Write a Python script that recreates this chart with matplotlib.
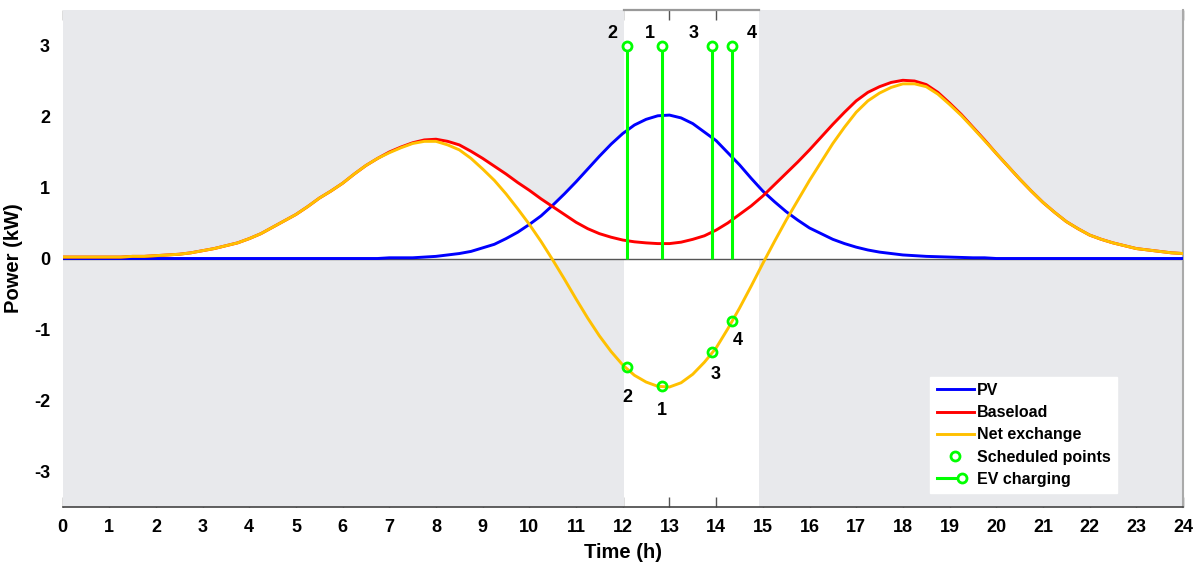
import numpy as np
import matplotlib
matplotlib.use("Agg")
import matplotlib.pyplot as plt
from matplotlib.lines import Line2D
from matplotlib.legend_handler import HandlerBase

# quarter-hourly profile, kW (one row per hour)
hours = np.arange(0, 24.25, 0.25)
pv = [0.0, 0.0, 0.0, 0.0,
      0.0, 0.0, 0.0, 0.0,
      0.0, 0.0, 0.0, 0.0,
      0.0, 0.0, 0.0, 0.0,
      0.0, 0.0, 0.0, 0.0,
      0.0, 0.0, 0.0, 0.0,
      0.0, 0.0, 0.0, 0.0,
      0.01, 0.01, 0.01, 0.02,
      0.03, 0.05, 0.07, 0.10,
      0.15, 0.20, 0.28, 0.37,
      0.48, 0.60, 0.75, 0.91,
      1.08, 1.26, 1.44, 1.61,
      1.76, 1.88, 1.96, 2.01,
      2.02, 1.98, 1.90, 1.78,
      1.66, 1.49, 1.32, 1.13,
      0.95, 0.80, 0.66, 0.54,
      0.43, 0.35, 0.27, 0.21,
      0.16, 0.12, 0.09, 0.07,
      0.05, 0.04, 0.03, 0.025,
      0.02, 0.015, 0.01, 0.01,
      0.0, 0.0, 0.0, 0.0,
      0.0, 0.0, 0.0, 0.0,
      0.0, 0.0, 0.0, 0.0,
      0.0, 0.0, 0.0, 0.0,
      0.0]
baseload = [0.02, 0.02, 0.02, 0.02,
            0.02, 0.02, 0.03, 0.03,
            0.04, 0.05, 0.06, 0.08,
            0.11, 0.14, 0.18, 0.22,
            0.28, 0.35, 0.44, 0.53,
            0.62, 0.73, 0.85, 0.95,
            1.06, 1.19, 1.31, 1.41,
            1.50, 1.57, 1.63, 1.67,
            1.68, 1.65, 1.60, 1.51,
            1.41, 1.30, 1.19, 1.07,
            0.96, 0.84, 0.73, 0.62,
            0.51, 0.42, 0.35, 0.30,
            0.26, 0.235, 0.22, 0.21,
            0.21, 0.23, 0.27, 0.32,
            0.40, 0.50, 0.62, 0.74,
            0.88, 1.04, 1.20, 1.36,
            1.53, 1.71, 1.89, 2.06,
            2.22, 2.34, 2.42, 2.48,
            2.51, 2.50, 2.45, 2.34,
            2.19, 2.03, 1.85, 1.67,
            1.48, 1.30, 1.12, 0.95,
            0.79, 0.65, 0.52, 0.42,
            0.33, 0.27, 0.22, 0.18,
            0.14, 0.12, 0.10, 0.08,
            0.07]

# EV charging slots
ev_times = [12.09, 12.84, 13.92, 14.34]
ev_order = ["2", "1", "3", "4"]
ev_net = [-1.53, -1.80, -1.31, -0.88]
ev_stem = 3
window = (12.02, 14.92)

plt.rcParams["font.family"] = ["Liberation Sans", "DejaVu Sans"]
plt.rcParams["font.weight"] = "bold"
plt.rcParams["axes.unicode_minus"] = False

BLUE = "#0000ff"
RED = "#ff0000"
YEL = "#ffc000"
GRN = "#00ff00"
GRAY = "#e8e9ec"

pv = np.array(pv)
baseload = np.array(baseload)
net = baseload - pv


class StemHandler(HandlerBase):
    def create_artists(self, legend, orig_handle, xdescent, ydescent,
                       width, height, fontsize, trans):
        y = height / 2 - ydescent
        x0 = -xdescent
        x1 = -xdescent + width * 0.68
        ln = Line2D([x0, x1], [y, y], color=GRN, lw=2.2)
        mk = Line2D([x1], [y], marker="o", mfc="white", mec=GRN, mew=2, ms=6.5)
        ln.set_transform(trans)
        mk.set_transform(trans)
        return [ln, mk]


fig = plt.figure(figsize=(11.95, 5.7), dpi=100)
ax = fig.add_axes([62.5 / 1195, 1 - 507 / 570, (1183 - 62.5) / 1195, 497 / 570])
ax.set_facecolor("white")
ax.set_axisbelow(True)

ax.axvspan(0, window[0], color=GRAY, lw=0, zorder=1)
ax.axvspan(window[1], 24, color=GRAY, lw=0, zorder=1)
ax.fill_between(hours, 0, np.maximum(baseload, pv), color="white", lw=0, zorder=1.2)
ax.axhline(0, color="#555555", lw=1, zorder=1.5)
ax.plot([window[0], window[1]], [3.5, 3.5], color="#999999", lw=1.6,
        clip_on=False, zorder=3)

ax.plot(hours, pv, color=BLUE, lw=2.1, label="PV", zorder=3)
ax.plot(hours, baseload, color=RED, lw=2.1, label="Baseload", zorder=3.1)
ax.plot(hours, net, color=YEL, lw=2.1, label="Net exchange", zorder=3.2)

ax.vlines(ev_times, 0, ev_stem, color=GRN, lw=2.2, zorder=4)
ax.plot(ev_times, [ev_stem] * len(ev_times), "o", mfc="white", mec=GRN,
        mew=2, ms=6.5, zorder=5)
ax.plot(ev_times, ev_net, "o", ls="none", mfc="none", mec=GRN, mew=2, ms=6.5,
        zorder=5, label="Scheduled points")

top_off = [(-15, 12), (-12, 12), (-19, 12), (20, 12)]
bot_off = [(0, -30), (0, -24), (3, -23), (6, -20)]
for i in range(len(ev_times)):
    ax.annotate(ev_order[i], (ev_times[i], ev_stem), xytext=top_off[i],
                textcoords="offset pixels", ha="center", va="center",
                fontsize=13, fontweight="bold", zorder=6)
    ax.annotate(ev_order[i], (ev_times[i], ev_net[i]), xytext=bot_off[i],
                textcoords="offset pixels", ha="center", va="center",
                fontsize=13, fontweight="bold", zorder=6)

ax.set_xlim(0, 24)
ax.set_ylim(-3.5, 3.5)
ax.set_xticks(range(0, 25))
ax.set_yticks(range(-3, 4))
ax.tick_params(direction="in", length=7, width=1, color="#555555", top=True,
               labelsize=13, pad=9)
for lab in ax.get_xticklabels() + ax.get_yticklabels():
    lab.set_fontweight("bold")

ax.spines["left"].set_visible(False)
ax.spines["top"].set_visible(False)
ax.spines["bottom"].set_color("#444444")
ax.spines["bottom"].set_linewidth(1.2)
ax.spines["right"].set_color("#aaaaaa")
ax.spines["right"].set_linewidth(1.5)

ax.set_xlabel("Time (h)", fontsize=14.5, fontweight="bold", labelpad=5)
ax.set_ylabel("Power (kW)", fontsize=14.5, fontweight="bold", labelpad=8)

ev_proxy = Line2D([], [], color=GRN)
handles, labels = ax.get_legend_handles_labels()
handles.append(ev_proxy)
labels.append("EV charging")
leg = ax.legend(handles, labels, handler_map={ev_proxy: StemHandler()},
                loc="lower right", bbox_to_anchor=(0.941, 0.028),
                frameon=True, fancybox=False, edgecolor="white",
                facecolor="white", framealpha=1,
                prop={"size": 11.5, "weight": "bold"},
                handlelength=2.3, handletextpad=0.2, labelspacing=0.45,
                borderpad=0.4, borderaxespad=0)
leg.set_zorder(7)

fig.savefig("out.png", dpi=100)
